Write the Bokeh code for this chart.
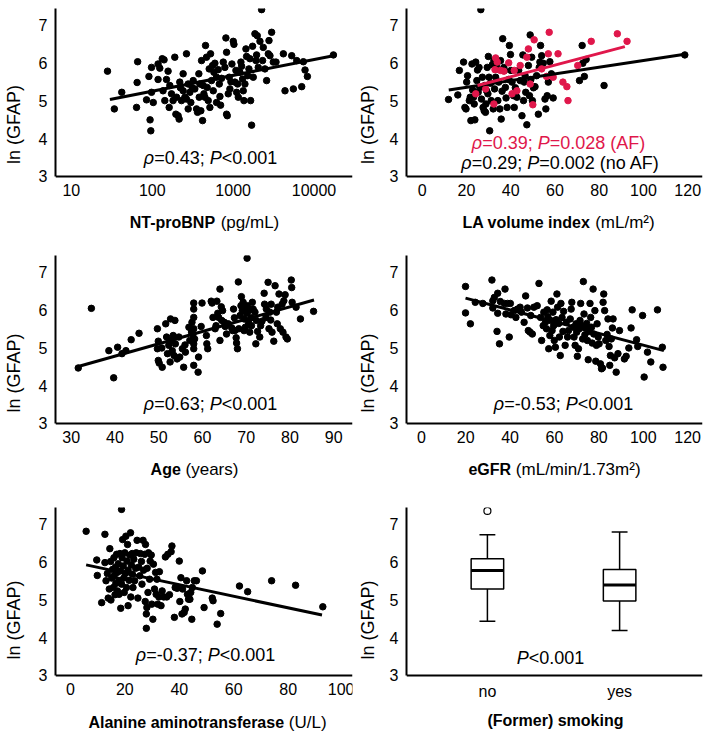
from bokeh.plotting import figure
from bokeh.layouts import column, row
from bokeh.models import Label, FixedTicker, NumeralTickFormatter, Range1d
from bokeh.embed import file_html
from bokeh.resources import INLINE

FONT = "Liberation Sans"
INK = "#000000"
AF_RED = "#E0174B"

# ---------------- data ----------------
ntprobnp = [28, 34, 42, 64, 66, 65, 85, 91, 94, 96, 98, 98, 103, 118, 118, 124, 133, 136, 140, 143,
            150, 157, 162, 165, 173, 181, 190, 196, 200, 209, 215, 219, 223, 230, 241, 241, 253, 265, 265, 278,
            278, 292, 300, 312, 321, 336, 353, 363, 377, 381, 388, 399, 407, 419, 427, 435, 448, 456, 469, 478,
            492, 506, 516, 526, 541, 557, 568, 579, 595, 624, 624, 654, 674, 687, 700, 720, 755, 791, 814, 830,
            830, 846, 870, 895, 912, 939, 966, 1004, 1023, 1052, 1083, 1104, 1136, 1158, 1213, 1248, 1273, 1309, 1334, 1360,
            1399, 1440, 1467, 1510, 1568, 1613, 1645, 1692, 1740, 1774, 1860, 1914, 1950, 1988, 2045, 2145, 2249, 2313, 2359, 2474,
            2594, 2720, 2775, 2853, 2992, 3138, 3388, 4178, 4379, 5298, 5555, 6109, 7045, 7387, 7745, 8277, 17378]
gfap_ntprobnp = [5.79, 4.79, 5.23, 4.83, 6.04, 5.49, 5.03, 5.65, 4.50, 4.21, 5.89, 5.23, 4.96, 5.57, 5.98, 5.87, 6.12, 5.27, 6.09, 5.01,
                 5.57, 5.79, 4.83, 5.41, 5.19, 5.01, 6.16, 4.65, 5.10, 4.61, 4.52, 5.50, 5.35, 5.01, 5.72, 5.27, 5.10, 6.25, 5.05, 5.45,
                 4.79, 5.23, 4.96, 5.35, 5.54, 5.32, 4.79, 4.70, 5.72, 5.10, 5.45, 4.74, 6.07, 4.48, 5.41, 5.19, 5.10, 6.47, 6.16, 5.36,
                 5.01, 5.85, 4.83, 6.25, 5.54, 5.94, 5.27, 5.76, 6.00, 5.63, 4.96, 5.83, 5.45, 5.12, 4.89, 5.60, 6.03, 5.89, 6.67, 6.29,
                 4.65, 4.61, 5.19, 5.63, 5.32, 5.51, 5.98, 6.58, 6.50, 5.50, 5.81, 5.23, 5.45, 5.10, 5.76, 6.03, 5.92, 5.58, 5.27, 5.01,
                 5.45, 6.38, 6.18, 5.67, 5.85, 6.12, 5.01, 4.36, 6.45, 5.63, 6.78, 6.07, 6.22, 6.73, 5.89, 6.58, 7.42, 6.07, 6.42, 5.85,
                 5.54, 6.25, 6.60, 6.20, 6.82, 6.03, 6.03, 6.25, 5.27, 6.20, 5.32, 6.07, 5.38, 6.04, 5.82, 5.65, 6.22]
fit_ntprobnp_x = [30, 17378]
fit_ntprobnp_y = [5.04, 6.20]

lavi_noaf = [11.9, 16.1, 16.8, 18.7, 19.3, 19.8, 20.1, 20.5, 21.3, 21.7, 22.0, 22.5, 22.8, 23.2, 23.5, 23.8, 24.2, 24.7, 25.0, 25.3,
             25.7, 26.0, 26.5, 26.8, 27.2, 27.5, 28.0, 28.3, 28.6, 28.8, 29.1, 29.4, 29.7, 29.9, 30.2, 30.5, 30.9, 31.2, 31.7, 32.1,
             32.4, 32.7, 33.2, 33.6, 33.9, 34.2, 34.6, 35.1, 35.4, 35.7, 36.1, 36.4, 36.9, 37.2, 37.6, 37.9, 38.4, 39.1, 39.4, 39.9,
             40.1, 40.6, 41.3, 41.6, 42.1, 42.8, 43.6, 44.3, 45.1, 45.5, 45.8, 46.1, 46.5, 46.8, 47.3, 48.0, 48.5, 48.8, 49.1, 49.5,
             49.8, 50.3, 51.0, 51.7, 52.5, 52.9, 53.2, 53.5, 54.0, 54.7, 55.5, 55.9, 56.5, 57.0, 57.7, 58.4, 59.2, 71.1, 72.3, 72.6,
             73.3, 74.1, 82.2, 118.7]
gfap_noaf = [5.04, 5.16, 5.81, 6.03, 4.83, 4.79, 5.50, 5.67, 5.01, 5.10, 4.48, 5.98, 5.29, 5.10, 4.92, 4.50, 6.03, 5.54, 5.82, 5.23,
             5.89, 5.36, 7.42, 5.05, 5.63, 4.83, 4.74, 5.41, 4.70, 4.92, 5.27, 5.89, 5.19, 6.18, 5.63, 4.21, 5.47, 5.01, 5.96, 4.79,
             6.07, 5.32, 5.63, 5.98, 5.85, 5.01, 5.50, 4.79, 6.07, 4.52, 5.26, 6.65, 5.89, 5.81, 5.36, 5.08, 4.83, 5.57, 6.47, 6.23,
             5.81, 5.50, 5.14, 4.83, 5.35, 5.10, 5.81, 5.54, 4.61, 6.22, 5.01, 5.50, 5.67, 5.23, 4.37, 5.94, 5.14, 6.75, 5.57, 6.16,
             5.01, 5.35, 5.38, 5.67, 4.65, 5.89, 6.03, 6.47, 6.20, 6.00, 5.05, 4.79, 5.14, 5.50, 6.04, 5.72, 5.08, 5.54, 6.47, 6.00,
             5.65, 6.10, 5.41, 6.22]
lavi_af = [24.2, 28.7, 32.4, 32.9, 33.2, 33.9, 35.4, 36.9, 39.1, 40.6, 41.6, 42.8, 44.3, 47.3, 48.0, 48.8, 50.0, 50.6, 54.0, 56.2,
           57.0, 57.4, 59.2, 61.4, 63.6, 65.4, 65.9, 70.3, 76.4, 88.2, 92.6]
gfap_af = [5.19, 5.32, 4.92, 5.83, 6.14, 6.03, 5.81, 5.79, 6.01, 5.19, 5.81, 5.27, 5.94, 6.16, 6.38, 5.45, 4.90, 6.62, 5.85, 5.65,
           6.25, 6.82, 5.63, 6.25, 5.50, 5.38, 5.01, 5.94, 6.58, 6.78, 6.58]
fit_noaf_x = [12.0, 118.7]
fit_noaf_y = [5.29, 6.24]
fit_af_x = [25.0, 91.6]
fit_af_y = [5.41, 6.44]

age = [31.6, 34.6, 38.6, 39.7, 40.6, 41.6, 42.5, 43.7, 45.5, 49.7, 49.7, 49.9, 49.9, 50.1, 50.7, 50.8, 51.6, 51.8, 52.0, 52.3,
       52.6, 52.7, 52.9, 53.1, 53.3, 53.5, 53.7, 53.8, 54.2, 54.6, 54.8, 55.4, 55.7, 56.0, 56.1, 56.9, 57.1, 57.5, 57.6, 57.8,
       58.0, 58.0, 58.0, 58.0, 58.0, 58.0, 58.0, 58.2, 59.0, 59.1, 59.7, 59.9, 60.9, 61.0, 61.2, 62.2, 62.4, 62.9, 63.1, 62.0,
       63.3, 63.5, 63.7, 64.0, 64.0, 64.3, 64.4, 64.6, 65.0, 65.2, 65.5, 65.9, 66.7, 66.9, 67.1, 67.3, 67.4, 67.7, 67.8, 68.0,
       68.2, 68.3, 68.6, 68.8, 68.9, 69.1, 69.3, 69.5, 69.5, 69.7, 69.8, 70.1, 70.2, 70.3, 70.5, 70.6, 70.8, 71.1, 71.2, 71.4,
       71.6, 72.0, 72.2, 72.3, 72.6, 73.1, 73.3, 73.6, 74.1, 74.2, 74.5, 74.6, 75.0, 75.2, 75.4, 75.6, 75.7, 75.9, 76.3, 76.6,
       76.9, 77.1, 77.2, 77.5, 77.8, 78.2, 78.4, 78.6, 78.9, 79.1, 79.4, 80.3, 80.4, 80.5, 81.4, 82.4, 85.4]
gfap_age = [4.47, 6.05, 4.93, 4.21, 5.02, 4.85, 4.93, 5.22, 5.39, 5.51, 4.98, 5.18, 4.67, 4.60, 5.00, 4.49, 5.64, 5.29, 4.85, 5.07,
            4.63, 5.77, 5.20, 4.93, 5.33, 4.80, 5.73, 5.11, 4.71, 5.29, 4.76, 4.98, 4.49, 5.08, 4.89, 5.55, 5.20, 5.42, 5.68, 5.35,
            6.19, 6.03, 5.81, 5.51, 5.11, 4.98, 4.54, 5.24, 4.36, 4.76, 5.57, 6.19, 5.33, 5.11, 4.98, 6.19, 5.81, 5.51, 5.59, 6.24,
            6.24, 5.92, 5.81, 6.56, 5.20, 6.09, 5.73, 5.99, 5.68, 5.57, 5.37, 5.64, 5.53, 5.46, 6.03, 5.80, 5.46, 5.27, 5.13, 4.98,
            6.75, 5.51, 5.86, 6.12, 6.36, 5.99, 6.21, 5.46, 5.77, 6.03, 5.55, 5.92, 7.38, 6.12, 5.68, 5.99, 5.42, 5.80, 5.59, 6.21,
            6.03, 5.95, 5.11, 5.73, 5.44, 5.29, 5.59, 5.71, 6.45, 6.16, 5.81, 6.03, 6.74, 5.51, 5.95, 5.74, 6.16, 5.42, 5.18, 6.65,
            5.95, 5.64, 6.08, 6.43, 5.51, 6.16, 5.42, 6.25, 6.41, 5.29, 5.24, 6.80, 6.60, 6.21, 6.08, 5.77, 5.97]
fit_age_x = [31.6, 85.5]
fit_age_y = [4.51, 6.27]

egfr = [19.9, 19.9, 22.1, 24.3, 27.7, 31.8, 32.2, 32.2, 32.9, 34.1, 34.4, 34.4, 35.2, 35.6, 37.4, 37.7, 38.1, 38.9, 39.6, 40.1,
        40.4, 41.8, 42.6, 43.3, 44.5, 45.1, 46.3, 47.0, 47.8, 48.2, 49.0, 49.3, 50.0, 50.7, 52.2, 53.0, 53.7, 54.2, 54.9, 55.2,
        55.9, 56.4, 56.7, 57.0, 57.4, 57.9, 58.2, 58.5, 58.9, 59.3, 59.6, 59.9, 60.4, 60.7, 61.1, 61.4, 61.9, 62.2, 62.6, 62.9,
        63.4, 63.8, 64.1, 64.8, 65.3, 65.9, 66.3, 67.1, 67.5, 67.8, 68.5, 68.8, 69.3, 69.7, 70.0, 70.3, 70.8, 71.2, 71.5, 71.8,
        72.3, 72.7, 73.0, 73.3, 73.7, 74.0, 74.5, 74.8, 75.2, 75.7, 76.0, 76.3, 76.7, 77.0, 77.4, 77.7, 78.2, 78.6, 78.9, 79.2,
        79.7, 80.1, 80.7, 81.2, 81.6, 81.9, 82.2, 82.6, 83.1, 83.7, 84.1, 84.6, 84.9, 85.2, 85.6, 86.1, 86.4, 87.1, 87.8, 88.6,
        89.3, 91.5, 92.3, 93.5, 94.5, 95.0, 97.0, 97.5, 99.7, 100.4, 101.9, 103.4, 106.4, 108.6, 108.9]
gfap_egfr = [6.63, 5.93, 5.64, 6.21, 6.18, 6.80, 6.25, 6.06, 6.34, 5.44, 6.45, 5.92, 5.11, 6.23, 6.18, 6.56, 5.90, 6.18, 5.29, 6.18,
             5.88, 5.99, 5.81, 6.03, 6.08, 5.95, 5.68, 6.38, 6.06, 5.46, 5.42, 5.86, 5.37, 6.08, 6.12, 6.71, 5.81, 5.20, 5.59, 5.95,
             5.68, 5.51, 6.01, 5.83, 4.98, 5.33, 5.73, 6.24, 5.46, 5.95, 5.59, 5.20, 5.02, 5.75, 6.43, 6.08, 5.65, 5.29, 4.80, 6.18,
             5.81, 5.44, 5.97, 5.07, 5.68, 5.29, 5.46, 5.77, 6.03, 6.21, 5.55, 5.29, 5.07, 5.64, 5.42, 4.78, 4.98, 5.51, 5.73, 6.18,
             5.59, 5.24, 6.76, 5.90, 5.35, 5.53, 5.65, 5.20, 4.69, 5.44, 6.18, 5.81, 5.55, 5.13, 6.56, 5.37, 5.99, 4.65, 5.07, 5.64,
             5.29, 5.11, 4.58, 4.45, 4.47, 6.21, 6.43, 5.99, 5.20, 5.36, 5.77, 5.04, 4.54, 4.80, 5.24, 5.53, 5.77, 4.74, 4.36, 4.85,
             5.46, 4.71, 4.78, 5.00, 5.53, 6.01, 5.22, 5.04, 5.86, 4.23, 4.89, 4.63, 6.01, 5.02, 4.49]
fit_egfr_x = [19.9, 109.3]
fit_egfr_y = [6.32, 4.93]

alt = [5.8, 9.7, 9.9, 11.5, 12.7, 12.7, 13.1, 13.6, 13.9, 14.3, 14.5, 14.8, 14.9, 15.2, 15.5, 15.8, 16.0, 16.1, 16.4, 16.6,
       16.7, 17.0, 17.2, 17.3, 17.6, 17.8, 17.9, 18.2, 18.4, 18.5, 18.8, 18.8, 19.0, 19.2, 19.4, 19.6, 19.8, 20.0, 20.2, 20.4,
       20.6, 20.8, 21.0, 21.2, 21.2, 21.6, 21.8, 22.1, 22.2, 22.4, 22.7, 22.8, 23.0, 23.3, 23.6, 24.0, 24.2, 24.5, 24.8, 25.1,
       25.5, 25.7, 26.1, 26.3, 26.7, 26.9, 27.3, 27.5, 27.6, 27.9, 27.9, 28.1, 28.2, 28.5, 28.7, 29.1, 29.3, 29.7, 29.9, 30.3,
       30.5, 30.9, 31.3, 31.5, 31.8, 32.1, 32.5, 32.7, 33.3, 33.7, 34.3, 34.9, 35.4, 35.8, 36.4, 37.0, 37.3, 38.2, 38.5, 39.2,
       40.0, 40.2, 40.6, 41.0, 41.2, 41.8, 42.2, 42.7, 43.0, 43.4, 43.9, 44.2, 44.6, 44.8, 45.5, 46.3, 48.5, 49.1, 52.1, 52.4,
       53.9, 55.2, 62.1, 65.1, 73.9, 82.7, 92.7]
gfap_alt = [6.82, 6.06, 5.65, 4.93, 6.74, 5.99, 5.51, 5.70, 5.05, 5.29, 6.36, 6.02, 5.00, 5.58, 5.81, 5.33, 6.12, 5.64, 5.14, 5.87,
            5.44, 6.21, 5.73, 5.24, 5.96, 5.52, 5.15, 6.23, 5.77, 4.78, 7.40, 5.42, 6.12, 6.60, 5.90, 5.58, 5.20, 6.25, 5.70, 6.69,
            5.33, 6.03, 6.47, 4.85, 5.79, 5.52, 6.19, 6.78, 5.08, 5.93, 6.23, 5.68, 5.33, 6.08, 5.51, 5.84, 6.25, 6.58, 5.05, 5.87,
            5.64, 6.23, 6.02, 5.42, 6.58, 5.79, 6.21, 4.96, 6.47, 4.25, 4.63, 4.80, 5.84, 5.20, 6.25, 5.55, 6.03, 6.19, 4.89, 4.49,
            5.95, 5.29, 5.73, 5.15, 5.55, 4.89, 5.08, 5.75, 4.85, 5.24, 5.08, 6.14, 5.08, 6.21, 5.14, 6.28, 6.43, 4.54, 5.33, 5.31,
            6.03, 4.96, 5.59, 4.63, 5.29, 4.67, 4.76, 5.51, 5.15, 5.02, 5.02, 5.20, 4.49, 5.33, 5.51, 5.51, 5.77, 4.80, 5.05, 4.98,
            4.36, 4.64, 5.37, 5.22, 5.51, 5.39, 4.82]
fit_alt_x = [5.8, 92.4]
fit_alt_y = [5.93, 4.60]

smoking = ["no", "yes"]
box_q1 = [5.29, 4.97]
box_median = [5.78, 5.40]
box_q3 = [6.09, 5.81]
whisker_low = [4.44, 4.19]
whisker_high = [6.73, 6.80]
outlier_group = [1]
outlier_value = [7.36]

y_ticks = [3, 4, 5, 6, 7]
Y_AXIS_MIN = 3.0
Y_AXIS_MAX = 7.45

# ---------------- text metrics (Arial / Liberation Sans) ----------------
REG = {' ': 278, '(': 333, ')': 333, '.': 278, ';': 278, '/': 278, '=': 584, '<': 584, '-': 333, '\u00b2': 333,
       '\u03c1': 578, 'A': 667, 'F': 611, 'G': 778, 'L': 556, 'P': 667, 'U': 722, 'a': 556, 'd': 556, 'e': 556,
       'g': 556, 'i': 222, 'l': 222, 'm': 833, 'n': 556, 'o': 556, 'p': 556, 'r': 333, 's': 500, 'y': 500}
BOLD = {' ': 278, '(': 333, ')': 333, '-': 333, 'A': 722, 'B': 722, 'F': 611, 'G': 778, 'L': 611, 'N': 722,
        'P': 667, 'R': 722, 'T': 611, 'a': 556, 'd': 611, 'e': 556, 'f': 333, 'g': 611, 'i': 278, 'k': 556,
        'l': 278, 'm': 889, 'n': 611, 'o': 611, 'p': 611, 'r': 389, 's': 556, 't': 333, 'u': 611, 'v': 556,
        'x': 556, 'y': 556}

TITLE_BOLD_SIZE = 16
TITLE_NORMAL_SIZE = 17


def tw(s, style, size):
    table = BOLD if style == "bold" else REG
    return sum(table.get(c, 556) for c in s) * size / 1000.0


def piece_size(style, size):
    if isinstance(size, dict):
        return size.get(style, size["normal"])
    return size


def rich(p, x0, frame_left, center, dy, pieces, size, color=INK):
    total = sum(tw(t, s, piece_size(s, size)) for t, s in pieces)
    left = center - total / 2.0
    for t, s in pieces:
        sz = piece_size(s, size)
        stripped = t.lstrip(" ")
        lead = tw(t[:len(t) - len(stripped)], s, sz)
        p.add_layout(Label(x=x0, y=Y_AXIS_MIN, x_offset=left + lead - frame_left, y_offset=dy,
                           text=stripped.rstrip(" "), text_font=FONT, text_font_size=f"{sz}px",
                           text_font_style={"bold": "bold", "italic": "italic"}.get(s, "normal"),
                           text_color=color, text_align="left", text_baseline="middle"))
        left += tw(t, s, sz)


TITLE_SIZES = {"bold": TITLE_BOLD_SIZE, "normal": TITLE_NORMAL_SIZE}

PX_PER_UNIT = 37.75
ROW_H = [240, 250, 242]
ROW_TOP = [8, 15, 17]
COL_W = [354, 350]
COL_LEFT = [52, 48]
COL_YLAB_STANDOFF = [12, 9]


def make_fig(r, c, xr, xticks, x_type="linear"):
    frame_h = ROW_H[r] - ROW_TOP[r]
    y_start = Y_AXIS_MAX - frame_h / PX_PER_UNIT
    p = figure(width=COL_W[c], height=ROW_H[r], x_range=xr, y_range=Range1d(y_start, Y_AXIS_MAX),
               x_axis_type=x_type, output_backend="svg", toolbar_location=None, title=None,
               min_border_left=COL_LEFT[c], min_border_right=2, min_border_top=ROW_TOP[r],
               min_border_bottom=0)
    p.outline_line_color = None
    p.xgrid.visible = False
    p.ygrid.visible = False
    p.background_fill_color = "white"
    p.border_fill_color = "white"
    for ax in (p.xaxis[0], p.yaxis[0]):
        ax.axis_line_width = 2
        ax.axis_line_color = INK
        ax.major_tick_line_color = None
        ax.minor_tick_line_color = None
        ax.major_tick_out = 0
        ax.major_tick_in = 0
        ax.major_label_text_font = FONT
        ax.major_label_text_font_size = "16px"
        ax.major_label_text_color = INK
        ax.major_label_standoff = 8
    p.xaxis[0].fixed_location = Y_AXIS_MIN
    p.xaxis[0].ticker = FixedTicker(ticks=xticks)
    p.yaxis[0].bounds = (Y_AXIS_MIN, Y_AXIS_MAX)
    p.yaxis[0].ticker = FixedTicker(ticks=y_ticks)
    p.yaxis[0].axis_label = "ln (GFAP)"
    p.yaxis[0].axis_label_text_font = FONT
    p.yaxis[0].axis_label_text_font_size = "18px"
    p.yaxis[0].axis_label_text_font_style = "normal"
    p.yaxis[0].axis_label_text_color = INK
    p.yaxis[0].axis_label_standoff = COL_YLAB_STANDOFF[c]
    return p


def rho_text(r, p_sign, p_val, extra=""):
    return [("\u03c1", "italic"), (f"={r}; ", "normal"), ("P", "italic"), (f"{p_sign}{p_val}{extra}", "normal")]


DOT = 6.5

# Panel 1: NT-proBNP
x1 = Range1d(6.37, 29900)
p1 = make_fig(0, 0, x1, [10, 100, 1000, 10000], x_type="log")
p1.xaxis[0].formatter = NumeralTickFormatter(format="0")
p1.scatter(ntprobnp, gfap_ntprobnp, size=DOT, color=INK)
p1.line(fit_ntprobnp_x, fit_ntprobnp_y, line_width=3, color=INK)
rich(p1, 6.37, 52, 207, 18, rho_text("0.43", "<", "0.001"), 18)
rich(p1, 6.37, 52, 201, -46, [("NT-proBNP", "bold"), (" (pg/mL)", "normal")], TITLE_SIZES)

# Panel 2: LA volume index
x2 = Range1d(-7.1, 126.7)
p2 = make_fig(0, 1, x2, [0, 20, 40, 60, 80, 100, 120])
p2.scatter(lavi_noaf, gfap_noaf, size=DOT, color=INK)
p2.scatter(lavi_af, gfap_af, size=DOT, color=AF_RED)
p2.line(fit_noaf_x, fit_noaf_y, line_width=3, color=INK)
p2.line(fit_af_x, fit_af_y, line_width=3, color=AF_RED)
rich(p2, -7.1, 402, 554, 33, rho_text("0.39", "=", "0.028", " (AF)"), 18, AF_RED)
rich(p2, -7.1, 402, 556, 13, rho_text("0.29", "=", "0.002", " (no AF)"), 18)
rich(p2, -7.1, 402, 554, -46, [("LA volume index", "bold"), (" (mL/m\u00b2)", "normal")], TITLE_SIZES)

# Panel 3: Age
x3 = Range1d(26.4, 94.3)
p3 = make_fig(1, 0, x3, [30, 40, 50, 60, 70, 80, 90])
p3.scatter(age, gfap_age, size=DOT, color=INK)
p3.line(fit_age_x, fit_age_y, line_width=3, color=INK)
rich(p3, 26.4, 52, 207, 19, rho_text("0.63", "<", "0.001"), 18)
rich(p3, 26.4, 52, 191, -46, [("Age", "bold"), (" (years)", "normal")], TITLE_SIZES)

# Panel 4: eGFR
x4 = Range1d(-6.7, 126.7)
p4 = make_fig(1, 1, x4, [0, 20, 40, 60, 80, 100, 120])
p4.scatter(egfr, gfap_egfr, size=DOT, color=INK)
p4.line(fit_egfr_x, fit_egfr_y, line_width=3, color=INK)
rich(p4, -6.7, 402, 559, 19, rho_text("-0.53", "<", "0.001"), 18)
rich(p4, -6.7, 402, 550, -46, [("eGFR", "bold"), (" (mL/min/1.73m\u00b2)", "normal")], TITLE_SIZES)

# Panel 5: ALT
x5 = Range1d(-5.45, 103.6)
p5 = make_fig(2, 0, x5, [0, 20, 40, 60, 80, 100])
p5.scatter(alt, gfap_alt, size=DOT, color=INK)
p5.line(fit_alt_x, fit_alt_y, line_width=3, color=INK)
rich(p5, -5.45, 52, 202, 20, rho_text("-0.37", "<", "0.001"), 18)
rich(p5, -5.45, 52, 204, -47, [("Alanine aminotransferase", "bold"), (" (U/L)", "normal")], TITLE_SIZES)

# Panel 6: smoking boxplot
x6 = Range1d(0.388, 2.627)
pos = [i + 1 for i in range(len(smoking))]
p6 = make_fig(2, 1, x6, pos)
p6.xaxis[0].major_label_overrides = {k: v for k, v in zip(pos, smoking)}
half_box = 0.123
half_cap = 0.06
p6.segment(pos, whisker_low, pos, box_q1, line_width=1.5, color=INK)
p6.segment(pos, box_q3, pos, whisker_high, line_width=1.5, color=INK)
p6.segment([q - half_cap for q in pos], whisker_low, [q + half_cap for q in pos], whisker_low, line_width=1.5, color=INK)
p6.segment([q - half_cap for q in pos], whisker_high, [q + half_cap for q in pos], whisker_high, line_width=1.5, color=INK)
p6.quad(left=[q - half_box for q in pos], right=[q + half_box for q in pos], bottom=box_q1, top=box_q3,
        fill_color="white", line_color=INK, line_width=1.5)
p6.segment([q - half_box for q in pos], box_median, [q + half_box for q in pos], box_median, line_width=3, color=INK)
p6.scatter(outlier_group, outlier_value, size=7, fill_color="white", line_color=INK, line_width=1.2)
rich(p6, 0.388, 402, 546, 17, [("P", "italic"), ("<0.001", "normal")], 18)
rich(p6, 0.388, 402, 551, -45, [("(Former) smoking", "bold")], TITLE_SIZES)

layout = column(row(p1, p2), row(p3, p4), row(p5, p6))
open("out.html", "w").write(file_html(layout, INLINE))
